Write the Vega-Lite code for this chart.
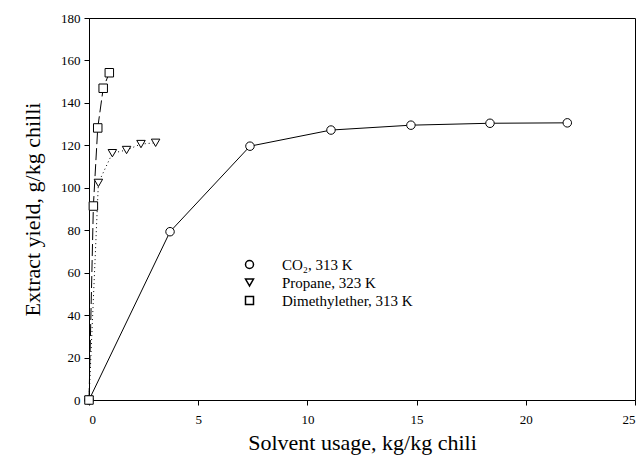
{
  "$schema": "https://vega.github.io/schema/vega-lite/v6.json",
  "width": 546,
  "height": 382,
  "autosize": "none",
  "padding": {"left": 89, "top": 18, "right": 9, "bottom": 64},
  "background": "white",
  "config": {
    "view": {"stroke": "black", "strokeWidth": 1},
    "axis": {
      "grid": false,
      "domainColor": "black",
      "tickColor": "black",
      "labelColor": "black",
      "titleColor": "black",
      "labelFont": "Liberation Serif",
      "titleFont": "Liberation Serif",
      "labelFontSize": 13,
      "titleFontSize": 22,
      "titleFontWeight": "normal",
      "tickSize": 5
    }
  },
  "data": {
    "values": [
      {"series": "CO₂, 313 K", "x": 0, "y": 0},
      {"series": "CO₂, 313 K", "x": 3.71, "y": 79.3},
      {"series": "CO₂, 313 K", "x": 7.37, "y": 119.6},
      {"series": "CO₂, 313 K", "x": 11.08, "y": 127.2},
      {"series": "CO₂, 313 K", "x": 14.74, "y": 129.5},
      {"series": "CO₂, 313 K", "x": 18.36, "y": 130.4},
      {"series": "CO₂, 313 K", "x": 21.9, "y": 130.6},
      {"series": "Propane, 323 K", "x": 0, "y": 0},
      {"series": "Propane, 323 K", "x": 0.43, "y": 102.3},
      {"series": "Propane, 323 K", "x": 1.07, "y": 116.3},
      {"series": "Propane, 323 K", "x": 1.72, "y": 117.8},
      {"series": "Propane, 323 K", "x": 2.38, "y": 120.6},
      {"series": "Propane, 323 K", "x": 3.05, "y": 121.2},
      {"series": "Dimethylether, 313 K", "x": 0, "y": 0},
      {"series": "Dimethylether, 313 K", "x": 0.2, "y": 91.4},
      {"series": "Dimethylether, 313 K", "x": 0.4, "y": 128.2},
      {"series": "Dimethylether, 313 K", "x": 0.65, "y": 146.9},
      {"series": "Dimethylether, 313 K", "x": 0.93, "y": 154.2}
    ]
  },
  "encoding": {
    "x": {
      "field": "x",
      "type": "quantitative",
      "scale": {"domain": [0, 25], "nice": false},
      "axis": {"values": [0, 5, 10, 15, 20, 25], "title": "Solvent usage, kg/kg chili", "labelPadding": 8, "titlePadding": 6}
    },
    "y": {
      "field": "y",
      "type": "quantitative",
      "scale": {"domain": [0, 180], "nice": false},
      "axis": {"values": [0, 20, 40, 60, 80, 100, 120, 140, 160, 180], "title": "Extract yield, g/kg chilli", "labelPadding": 4, "titlePadding": 16}
    }
  },
  "layer": [
    {
      "transform": [{"filter": "datum.series === 'CO₂, 313 K'"}],
      "mark": {"type": "line", "color": "black", "strokeWidth": 1},
      "encoding": {}
    },
    {
      "transform": [{"filter": "datum.series === 'Propane, 323 K'"}],
      "mark": {"type": "line", "color": "black", "strokeWidth": 1, "strokeDash": [1, 3]},
      "encoding": {}
    },
    {
      "transform": [{"filter": "datum.series === 'Dimethylether, 313 K'"}],
      "mark": {"type": "line", "color": "black", "strokeWidth": 1, "strokeDash": [12, 4]},
      "encoding": {}
    },
    {
      "mark": {"type": "point", "filled": true, "fill": "white", "stroke": "black", "strokeWidth": 1, "opacity": 1, "size": 72},
      "encoding": {
        "shape": {
          "field": "series",
          "type": "nominal",
          "scale": {
            "domain": ["CO₂, 313 K", "Propane, 323 K", "Dimethylether, 313 K"],
            "range": ["circle", "triangle-down", "square"]
          },
          "legend": {
            "orient": "none",
            "legendX": 153,
            "legendY": 239,
            "title": null,
            "symbolSize": 64,
            "labelOffset": 25,
            "labelFont": "Liberation Serif",
            "labelFontSize": 15,
            "labelColor": "black",
            "rowPadding": 2
          }
        }
      }
    }
  ]
}
